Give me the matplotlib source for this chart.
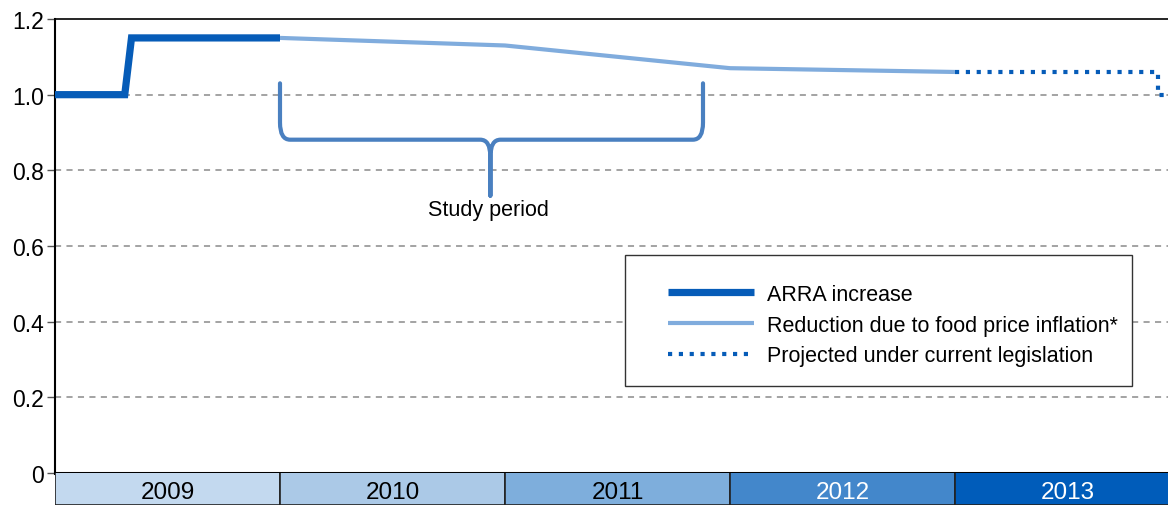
import matplotlib
matplotlib.use("Agg")
import matplotlib.pyplot as plt
from matplotlib.path import Path
from matplotlib.patches import PathPatch, Rectangle
from matplotlib.lines import Line2D

plt.rcParams['font.family'] = ['Liberation Sans', 'DejaVu Sans']

# data (x in years, y = benefit index)
arra_x = [2009.0, 2009.31, 2009.34, 2010.0]
arra_y = [1.0, 1.0, 1.15, 1.15]
infl_x = [2010.0, 2011.0, 2012.0, 2013.0]
infl_y = [1.15, 1.13, 1.07, 1.06]
proj_x = [2013.0, 2013.9, 2013.9, 2014.0]
proj_y = [1.06, 1.06, 1.0, 1.0]
years = [2009, 2010, 2011, 2012, 2013]
year_colors = ['#c3d9ef', '#abc9e7', '#7eaedc', '#4387cb', '#005cba']
year_text = ['black', 'black', 'black', 'white', 'white']
yticks = [0, 0.2, 0.4, 0.6, 0.8, 1.0, 1.2]
ylabels = ['0', '0.2', '0.4', '0.6', '0.8', '1.0', '1.2']

dark = '#065cb8'
light = '#80acdd'
brace_c = '#4a80c0'

fig = plt.figure(figsize=(11.68, 5.06), dpi=100)
ax = fig.add_axes([55/1168, 32/506, 1 - 55/1168, 454/506])
xmax = 2009 + (1168 - 55) / 225
ax.set_xlim(2009, xmax)
ax.set_ylim(0, 1.2)

for v in yticks[1:-1]:
    ax.axhline(v, color='#8a8a8a', lw=1.1, ls=(0, (4, 3.5)), zorder=1)

ax.plot(infl_x, infl_y, color=light, lw=3, solid_capstyle='butt', zorder=3)
ax.plot(proj_x, proj_y, color=dark, lw=3, ls=(0, (1, 1.6)), zorder=3)
ax.plot(arra_x, arra_y, color=dark, lw=5.2, solid_joinstyle='miter',
        solid_capstyle='butt', zorder=4)

# study period brace
x0, xm, x1 = 2010.0, 2010.935, 2011.88
ytop, ybot, ytip = 1.03, 0.881, 0.733
dx, dy = 0.045, 0.045
verts = [(x0, ytop), (x0, ybot + dy), (x0, ybot), (x0 + dx, ybot),
         (xm - dx, ybot), (xm, ybot), (xm, ybot - dy), (xm, ytip),
         (xm, ytip), (xm, ybot - dy), (xm, ybot), (xm + dx, ybot),
         (x1 - dx, ybot), (x1, ybot), (x1, ybot + dy), (x1, ytop)]
codes = [Path.MOVETO, Path.LINETO, Path.CURVE3, Path.CURVE3,
         Path.LINETO, Path.CURVE3, Path.CURVE3, Path.LINETO,
         Path.MOVETO, Path.LINETO, Path.CURVE3, Path.CURVE3,
         Path.LINETO, Path.CURVE3, Path.CURVE3, Path.LINETO]
ax.add_patch(PathPatch(Path(verts, codes), fill=False, ec=brace_c, lw=3,
                       capstyle='round', joinstyle='round', zorder=3))
ax.text(xm - 0.01, 0.697, 'Study period', ha='center', va='center', fontsize=15.5)

# legend box
ax.add_patch(Rectangle(((625 - 55) / 1113, (474 - 387) / 454), 507 / 1113, 131 / 454,
                       transform=ax.transAxes, fc='white', ec='#333333', lw=1, zorder=5))
handles = [Line2D([], [], color=dark, lw=5.2, solid_capstyle='butt'),
           Line2D([], [], color=light, lw=3, solid_capstyle='butt'),
           Line2D([], [], color=dark, lw=3, ls=(0, (1, 1.6)))]
labels = ['ARRA increase', 'Reduction due to food price inflation*',
          'Projected under current legislation']
leg = ax.legend(handles, labels, loc='upper left', frameon=False, fontsize=15.5,
                bbox_to_anchor=((668 - 55) / 1113, (474 - 285) / 454),
                borderpad=0, borderaxespad=0, handlelength=4.0, handletextpad=0.6,
                labelspacing=0.45)
leg.set_zorder(6)

for s in ['left', 'top', 'bottom']:
    ax.spines[s].set_color('black')
ax.spines['left'].set_linewidth(1.5)
ax.spines['top'].set_linewidth(1.2)
ax.spines['bottom'].set_linewidth(2.2)
ax.spines['right'].set_visible(False)
ax.set_yticks(yticks)
ax.set_yticklabels(ylabels, fontsize=16.5)
ax.tick_params(axis='y', length=6, width=1, color='#555555', pad=2)
ax.set_xticks([])

# year band
band = fig.add_axes([55/1168, 0, 1 - 55/1168, 32/506])
band.set_xlim(2009, xmax)
band.set_ylim(0, 1)
band.bar(years, 1.2, width=1, align='edge', color=year_colors,
         edgecolor='#222222', lw=1.2)
for yr, tc in zip(years, year_text):
    band.text(yr + 0.5, 0.4, str(yr), ha='center', va='center',
              fontsize=17.5, color=tc)
band.axis('off')

fig.savefig('out.png', dpi=100)
